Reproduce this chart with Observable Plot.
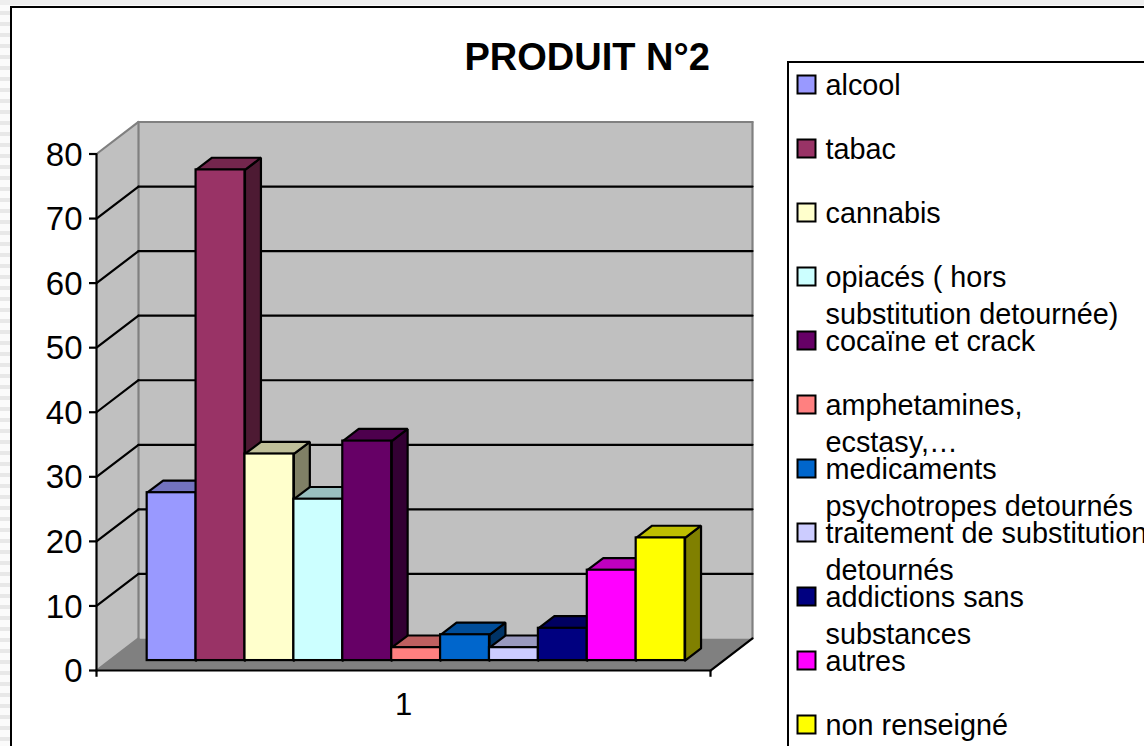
<!DOCTYPE html>
<html><head><meta charset="utf-8">
<script src="https://cdn.jsdelivr.net/npm/d3@7"></script>
<script src="https://cdn.jsdelivr.net/npm/@observablehq/plot@0.6"></script>
<style>
html,body{margin:0;padding:0;width:1144px;height:746px;overflow:hidden;background:#fff}
#page{position:absolute;left:0;top:0;width:1144px;height:746px;overflow:hidden;
 background:linear-gradient(180deg,#eeeeee 0 5px,transparent 5px),repeating-linear-gradient(180deg,#e8e8e8 0 4px,#fbfbfb 4px 11px)}
#sheet{position:absolute;left:10px;top:6px;width:1200px;height:800px;background:#fff;border:2px solid #000;box-sizing:border-box}
#legendBox{position:absolute;left:787px;top:61px;width:500px;height:800px;border:2px solid #000;box-sizing:border-box;background:#fff}
#chart{position:absolute;left:0;top:0}
svg{display:block}
</style></head><body>
<div id="page"><div id="sheet"></div><div id="legendBox"></div><div id="chart"></div></div>
<script>
const categories = ["alcool","tabac","cannabis","opiacés ( hors substitution detournée)","cocaïne et crack","amphetamines, ecstasy,…","medicaments psychotropes detournés","traitement de substitution detournés","addictions sans substances","autres","non renseigné"];
const values = [26,76,32,25,34,2,4,2,5,14,19];
const colors = ["#9999FF","#993366","#FFFFCC","#CCFFFF","#660066","#FF8080","#0066CC","#CCCCFF","#000080","#FF00FF","#FFFF00"];
const legendLines = [["alcool"],["tabac"],["cannabis"],["opiacés ( hors","substitution detournée)"],["cocaïne et crack"],["amphetamines,","ecstasy,…"],["medicaments","psychotropes detournés"],["traitement de substitution","detournés"],["addictions sans","substances"],["autres"],["non renseigné"]];
const yTicks = [0,10,20,30,40,50,60,70,80];
const gridValues = [10,20,30,40,50,60,70];
const title = "PRODUIT N°2";
const categoryLabel = "1";

// oblique projection of the Excel 3-D box, in data units
const xMax = 12.556, yMax = 80;
const depthX = 0.859, depthY = 4.957;
const gap = 0.77, barFront = 0.31, barBack = 0.69;
const P = (x, v, d = 0) => ({x: x + d * depthX, y: v + d * depthY});
const closed = pts => [...pts, pts[0]];
const shade = (c, k) => { const r = d3.rgb(c); return d3.rgb(r.r * k, r.g * k, r.b * k).formatHex(); };
const poly = (pts, o) => Plot.line(closed(pts), {x: "x", y: "y", curve: "linear", strokeLinejoin: "miter", ...o});
const seg = (a, b, stroke, strokeWidth = 2.2) => Plot.line([a, b], {x: "x", y: "y", stroke, strokeWidth});

const GRAY = "#808080", WALL = "#C0C0C0";
const marks = [];

// walls and floor
marks.push(poly([P(0,0),P(0,yMax),P(0,yMax,1),P(0,0,1)], {fill: WALL}));
marks.push(poly([P(0,0,1),P(0,yMax,1),P(xMax,yMax,1),P(xMax,0,1)], {fill: WALL}));
marks.push(poly([P(0,0),P(xMax,0),P(xMax,0,1),P(0,0,1)], {fill: GRAY}));
marks.push(seg(P(0,0,1),P(0,yMax,1),GRAY));
marks.push(seg(P(0,yMax,1),P(xMax,yMax,1),GRAY));
marks.push(seg(P(xMax,yMax,1),P(xMax,0,1),GRAY));
marks.push(seg(P(0,yMax),P(0,yMax,1),GRAY));
marks.push(seg(P(0,0),P(0,0,1),GRAY));
// gridlines
for (const v of gridValues) {
  marks.push(seg(P(0,v),P(0,v,1),"black"));
  marks.push(seg(P(0,v,1),P(xMax,v,1),"black"));
}
// bars, left to right
values.forEach((v, i) => {
  const x0 = gap + i, x1 = x0 + 1, c = colors[i], sw = 2.2;
  marks.push(poly([P(x1,0,barFront),P(x1,v,barFront),P(x1,v,barBack),P(x1,0,barBack)], {fill: shade(c,.5), stroke: "black", strokeWidth: sw}));
  marks.push(poly([P(x0,v,barFront),P(x1,v,barFront),P(x1,v,barBack),P(x0,v,barBack)], {fill: shade(c,.75), stroke: "black", strokeWidth: sw}));
  const a = P(x0,0,barFront), b = P(x1,v,barFront);
  marks.push(Plot.rect([{x1:a.x,x2:b.x,y1:a.y,y2:b.y}], {x1:"x1",x2:"x2",y1:"y1",y2:"y2",fill:c,stroke:"black",strokeWidth:sw}));
});
// axes
marks.push(seg(P(0,0),P(0,yMax),"black"));
marks.push(seg(P(0,0),P(xMax,0),"black"));
marks.push(seg(P(xMax,0),P(xMax,0,1),"black"));
marks.push(Plot.axisY({ticks: yTicks, tickSize: 7, strokeWidth: 2.2, tickFormat: () => ""}));
marks.push(Plot.axisY({ticks: yTicks, tickSize: 0, tickPadding: 14, dy: 1, fontSize: 33, tickFormat: d3.format("d")}));
marks.push(Plot.ruleX([0,xMax], {y1: -1.05, y2: 0, stroke: "black", strokeWidth: 2.2}));
marks.push(Plot.axisX({ticks: [xMax/2], tickSize: 0, tickPadding: 22, fontSize: 31, tickFormat: () => categoryLabel}));
// title
marks.push(Plot.text([title], {frameAnchor: "top-left", dx: 368, dy: -111, fontSize: 38, fontWeight: "bold", fill: "black"}));
// legend
colors.forEach((c, i) => {
  const cy = 84 + 64 * i - 153.5;
  marks.push(Plot.dot([0], {frameAnchor: "top-left", dx: 806 - 96, dy: cy, r: 10.15, symbol: "square", fill: c, stroke: "black", strokeWidth: 2}));
  legendLines[i].forEach((t, j) => {
    marks.push(Plot.text([t], {frameAnchor: "top-left", dx: 825 - 96, dy: cy + 1 + 37 * j, textAnchor: "start", lineAnchor: "middle", fontSize: 28.8, fill: "black"}));
  });
});

const plot = Plot.plot({
  width: 1144, height: 746,
  marginLeft: 96, marginRight: 434, marginTop: 153.5, marginBottom: 76,
  x: {domain: [0, xMax], axis: null},
  y: {domain: [0, yMax], axis: null},
  style: {fontFamily: "'Liberation Sans', Arial, sans-serif", background: "transparent", color: "black", overflow: "hidden"},
  marks
});
document.getElementById("chart").append(plot);
</script>
</body></html>
